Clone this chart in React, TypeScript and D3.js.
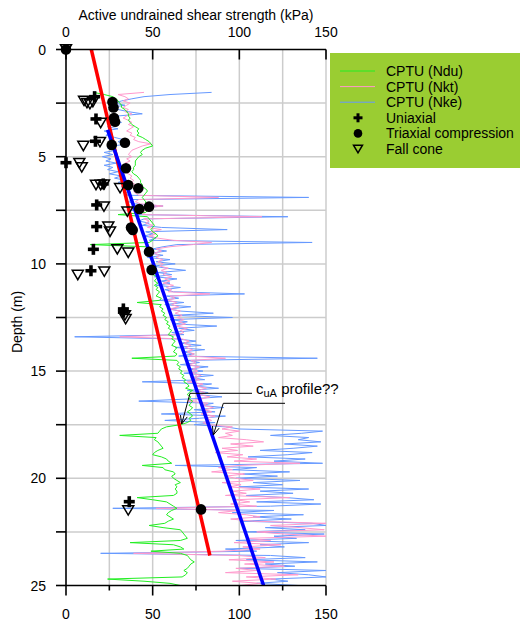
import React from "react";
import * as d3 from "d3";

// ---- Data ----
const DEPTH_START = 2.0; // m, first CPTU reading
const DEPTH_STEP = 0.1; // m

// CPTU (Ndu) — kPa, from 2.0 m to 25.0 m every 0.1 m
const NDU = [
  16, 22, 27, 29, 30, 31, 32, 32, 34, 35,
  36, 36, 37, 36, 37, 38, 40, 42, 41, 42,
  41, 44, 46, 48, 49, 50, 46, 44, 43, 44,
  42, 41, 40, 40, 40, 39, 39, 38, 39, 41,
  42, 43, 43, 44, 44, 46, 47, 46, 45, 44,
  45, 46, 46, 47, 46, 47, 46, 30, 47, 48,
  49, 50, 51, 50, 49, 50, 52, 53, 51, 50,
  48, 14, 46, 47, 48, 47, 48, 50, 49, 51,
  50, 52, 51, 50, 52, 50, 53, 52, 51, 53,
  51, 53, 52, 54, 53, 52, 55, 54, 41, 55,
  54, 56, 55, 57, 56, 58, 57, 59, 58, 60,
  59, 61, 60, 59, 62, 61, 63, 62, 61, 64,
  63, 62, 64, 63, 38, 64, 65, 64, 66, 65,
  67, 66, 68, 67, 69, 68, 70, 71, 69, 73,
  71, 70, 72, 71, 73, 72, 71, 73, 72, 70,
  72, 73, 71, 72, 70, 66, 58, 55, 54, 53,
  31, 52, 51, 53, 54, 55, 56, 53, 51, 50,
  55, 58, 59, 61, 44, 56, 57, 62, 63, 61,
  62, 64, 66, 63, 64, 63, 64, 64, 62, 41,
  50, 58, 60, 62, 64, 61, 59, 58, 60, 62,
  59, 57, 48, 56, 66, 67, 68, 69, 70, 66,
  37, 62, 66, 68, 49, 66, 70, 71, 72, 74,
  72, 71, 70, 68, 70, 69, 67, 24, 45, 60,
  66,
];

// CPTU (Nkt)
const NKT = [
  45, 30, 34, 36, 33, 37, 35, 33, 36, 34,
  38, 35, 33, 36, 38, 36, 39, 37, 35, 38,
  37, 40, 39, 42, 49, 44, 41, 38, 37, 36,
  38, 35, 37, 34, 36, 35, 37, 34, 36, 38,
  37, 39, 38, 40, 38, 41, 39, 40, 42, 88,
  42, 40, 43, 56, 45, 43, 46, 44, 113, 45,
  48, 46, 50, 47, 55, 49, 52, 48, 53, 62,
  84, 73, 60, 52, 55, 51, 54, 52, 56, 53,
  56, 54, 59, 55, 58, 56, 61, 57, 60, 56,
  62, 58, 61, 59, 83, 60, 63, 59, 64, 61,
  65, 60, 66, 63, 67, 64, 68, 65, 69, 64,
  70, 66, 68, 65, 31, 67, 71, 68, 72, 69,
  73, 70, 74, 71, 92, 72, 75, 71, 77, 73,
  76, 72, 78, 74, 77, 70, 79, 75, 81, 76,
  80, 77, 83, 78, 70, 82, 79, 85, 80, 84,
  78, 86, 81, 84, 79, 82, 96, 90, 100, 92,
  96, 88, 104, 114, 95, 108, 90, 99, 86, 102,
  93, 110, 97, 135, 100, 88, 96, 84, 103, 92,
  98, 108, 90, 101, 94, 112, 96, 104, 92, 129,
  98, 106, 95, 110, 52, 100, 88, 104, 112, 95,
  108, 150, 118, 135, 149, 110, 126, 150, 104, 118,
  97, 124, 102, 112, 90, 39, 99, 115, 94, 120,
  103, 126, 98, 110, 92, 134, 104, 121, 96, 112,
  100,
];

// CPTU (Nke)
const NKE = [
  84, 60, 45, 38, 32, 28, 34, 26, 30, 36,
  44, 30, 25, 28, 32, 27, 24, 30, 22, 26,
  23, 28, 33, 30, 36, 27, 24, 29, 22, 27,
  21, 26, 23, 29, 22, 27, 24, 30, 25, 32,
  28, 34, 30, 36, 32, 38, 33, 36, 35, 140,
  38, 36, 40, 56, 42, 38, 44, 40, 128, 45,
  42, 48, 44, 55, 93, 46, 50, 45, 52, 48,
  142, 64, 56, 50, 58, 49, 56, 47, 60, 52,
  63, 50, 58, 69, 53, 61, 51, 64, 55, 60,
  52, 66, 57, 62, 103, 58, 65, 54, 68, 57,
  72, 59, 66, 85, 62, 96, 60, 70, 63, 87,
  65, 74, 61, 68, 5, 64, 75, 66, 78, 63,
  80, 67, 74, 65, 145, 70, 77, 66, 82, 71,
  79, 68, 85, 72, 80, 44, 84, 74, 88, 70,
  82, 76, 90, 71, 42, 85, 78, 91, 74, 86,
  55, 92, 77, 57, 86, 74, 92, 100, 148, 136,
  118, 140, 134, 147, 126, 145, 131, 112, 142, 128,
  105, 138, 120, 148, 63, 110, 96, 129, 102, 122,
  98, 135, 108, 125, 100, 140, 112, 131, 104, 127,
  143, 110, 147, 118, 27, 120, 96, 137, 108, 130,
  102, 142, 150, 115, 138, 104, 149, 120, 133, 98,
  140, 112, 126, 92, 110, 20, 118, 138, 104, 145,
  115, 132, 100, 150, 122, 140, 150, 118, 128, 110,
  134,
];

// Laboratory tests: [strength kPa, depth m]
const UNIAXIAL: [number, number][] = [
  [16.5, 2.2], [17.3, 3.24], [17.0, 4.28], [0, 5.28], [21.5, 6.27],
  [17.7, 7.25], [17.7, 8.26], [15.8, 9.32], [14.4, 10.32],
  [33.1, 12.1], [33.1, 12.25], [36.5, 21.09],
];
const TRIAXIAL: [number, number][] = [
  [0, 0], [26.8, 2.45], [27.4, 2.7], [27.7, 3.2], [28.3, 3.37],
  [26.4, 4.45], [34.0, 4.35], [34.6, 5.54], [35.9, 6.32], [41.7, 6.47],
  [42.3, 7.44], [47.9, 7.33], [38.5, 8.42], [37.5, 8.3], [47.9, 9.43],
  [49.4, 10.28], [77.9, 21.45],
];
const FALL_CONE: [number, number][] = [
  [0, 0], [10.4, 2.4], [12.1, 2.5], [13.8, 2.55], [15.5, 2.45],
  [20.0, 3.43], [10.0, 4.5], [19.6, 4.32], [7.7, 5.3], [9.1, 5.5],
  [17.3, 6.32], [20.0, 6.32], [21.9, 6.3], [31.2, 6.47], [21.9, 7.33],
  [35.4, 7.56], [24.4, 8.26], [25.4, 8.5], [29.6, 9.32], [35.9, 9.48],
  [6.8, 10.52], [22.1, 10.36], [34.0, 12.4], [34.4, 12.58], [35.9, 21.5],
];

// c_uA profiles: [strength kPa, depth m] end points
const PROFILE_RED: [number, number][] = [[14.6, 0], [83, 23.6]];
const PROFILE_BLUE: [number, number][] = [[24, 3.75], [114, 25]];

const X_MAJOR = [0, 50, 100, 150];
const X_MINOR = [25, 75, 125];
const X_GRID = [25, 50, 75, 100, 125, 150];
const Y_LABELS = [0, 5, 10, 15, 20, 25];
const Y_TICKS = [0, 2.5, 5, 7.5, 10, 12.5, 15, 17.5, 20, 22.5, 25];
const Y_GRID = [2.5, 5, 7.5, 10, 12.5, 15, 17.5, 20, 22.5];

const LEGEND = [
  { label: "CPTU (Ndu)", kind: "line", color: "#22ee22" },
  { label: "CPTU (Nkt)", kind: "line", color: "#ff99cc" },
  { label: "CPTU (Nke)", kind: "line", color: "#6699ff" },
  { label: "Uniaxial", kind: "cross", color: "#000" },
  { label: "Triaxial compression", kind: "circle", color: "#000" },
  { label: "Fall cone", kind: "triangle", color: "#000" },
];

const FONT = "'Liberation Sans', Arial, sans-serif";

function Cross({ cx, cy, s = 11, t = 3.6 }: { cx: number; cy: number; s?: number; t?: number }) {
  return (
    <g>
      <rect x={cx - s / 2} y={cy - t / 2} width={s} height={t} fill="#000" />
      <rect x={cx - t / 2} y={cy - s / 2} width={t} height={s} fill="#000" />
    </g>
  );
}
function Tri({ cx, cy, w = 11 }: { cx: number; cy: number; w?: number }) {
  const h = w * 0.85;
  return (
    <polygon
      points={`${cx - w / 2},${cy - h / 2} ${cx + w / 2},${cy - h / 2} ${cx},${cy + h / 2}`}
      fill="none"
      stroke="#000"
      strokeWidth={1.5}
    />
  );
}

function Arrow({ x1, y1, x2, y2 }: { x1: number; y1: number; x2: number; y2: number }) {
  const ang = Math.atan2(y2 - y1, x2 - x1);
  const L = 9;
  const a1 = ang + Math.PI - 0.4;
  const a2 = ang + Math.PI + 0.4;
  return (
    <g stroke="#000" strokeWidth={1} fill="none">
      <line x1={x1} y1={y1} x2={x2} y2={y2} />
      <polyline
        points={`${x2 + L * Math.cos(a1)},${y2 + L * Math.sin(a1)} ${x2},${y2} ${x2 + L * Math.cos(a2)},${y2 + L * Math.sin(a2)}`}
      />
    </g>
  );
}

export default function App() {
  const x = d3.scaleLinear().domain([0, 150]).range([66, 326]);
  const y = d3.scaleLinear().domain([0, 25]).range([49.5, 585.5]);

  const depthAt = (i: number) => DEPTH_START + i * DEPTH_STEP;
  const trace = d3
    .line<number>()
    .x((v) => x(v))
    .y((_, i) => y(depthAt(i)));
  const seg = d3
    .line<[number, number]>()
    .x((p) => x(p[0]))
    .y((p) => y(p[1]));

  const [x0, x1] = x.range();
  const [y0, y1] = y.range();

  return (
    <div>
      <style>{`body{margin:0}`}</style>
      <svg width={520} height={623} style={{ display: "block", fontFamily: FONT }}>
        <rect width={520} height={623} fill="#fff" />
        {/* grid */}
        <g stroke="#cccccc" strokeWidth={1.5}>
          {X_GRID.map((v) => (
            <line key={"gx" + v} x1={x(v)} x2={x(v)} y1={y0} y2={y1} />
          ))}
          {Y_GRID.map((d) => (
            <line key={"gy" + d} x1={x0} x2={x1} y1={y(d)} y2={y(d)} />
          ))}
        </g>

        {/* CPTU traces */}
        <path d={trace(NKE) || ""} fill="none" stroke="#6699ff" strokeWidth={1} />
        <path d={trace(NKT) || ""} fill="none" stroke="#ff99cc" strokeWidth={1} />
        <path d={trace(NDU) || ""} fill="none" stroke="#22ee22" strokeWidth={1} />

        {/* profiles */}
        <path d={seg(PROFILE_RED) || ""} stroke="#ff0000" strokeWidth={3.5} fill="none" />
        <path d={seg(PROFILE_BLUE) || ""} stroke="#0000ff" strokeWidth={3.5} fill="none" />

        {/* axes */}
        <g stroke="#000" strokeWidth={1.6}>
          <line x1={x0} x2={x1} y1={y0} y2={y0} />
          <line x1={x0} x2={x1} y1={y1} y2={y1} />
          <line x1={x0} x2={x0} y1={y0} y2={y1} />
          {X_MAJOR.map((v) => (
            <line key={"tt" + v} x1={x(v)} x2={x(v)} y1={y0} y2={y0 + 10} />
          ))}
          {X_MAJOR.map((v) => (
            <line key={"bt" + v} x1={x(v)} x2={x(v)} y1={y1} y2={y1 + 10} />
          ))}
          {X_MINOR.map((v) => (
            <line key={"bm" + v} x1={x(v)} x2={x(v)} y1={y1} y2={y1 + 5} />
          ))}
          {Y_TICKS.map((d) => (
            <line key={"lt" + d} x1={x0 - 10} x2={x0} y1={y(d)} y2={y(d)} />
          ))}
        </g>

        {/* tick labels */}
        <g fontSize={14} fill="#000">
          {X_MAJOR.map((v) => (
            <text key={"tl" + v} x={x(v)} y={37} textAnchor="middle">
              {v}
            </text>
          ))}
          {X_MAJOR.map((v) => (
            <text key={"bl" + v} x={x(v)} y={619} textAnchor="middle">
              {v}
            </text>
          ))}
          {Y_LABELS.map((d) => (
            <text key={"yl" + d} x={46} y={y(d) + 5} textAnchor="end">
              {d}
            </text>
          ))}
          <text x={(x0 + x1) / 2} y={20} textAnchor="middle">
            Active undrained shear strength (kPa)
          </text>
          <text transform={`translate(22,322) rotate(-90)`} textAnchor="middle">
            Depth (m)
          </text>
        </g>

        {/* lab tests */}
        {FALL_CONE.map(([v, d], i) => (
          <Tri key={"f" + i} cx={x(v)} cy={y(d)} />
        ))}
        {UNIAXIAL.map(([v, d], i) => (
          <Cross key={"u" + i} cx={x(v)} cy={y(d)} />
        ))}
        {TRIAXIAL.map(([v, d], i) => (
          <circle key={"t" + i} cx={x(v)} cy={y(d)} r={5.3} fill="#000" />
        ))}

        {/* annotation */}
        <line x1={190} y1={393.3} x2={252} y2={393.3} stroke="#000" strokeWidth={1} />
        <Arrow x1={190} y1={393.3} x2={181.7} y2={424} />
        <line x1={223.3} y1={403.3} x2={285} y2={403.3} stroke="#000" strokeWidth={1} />
        <Arrow x1={223.3} y1={403.3} x2={213.3} y2={435} />
        <text x={256} y={394} fontSize={15} fill="#000">
          <tspan>c</tspan>
          <tspan dy={3} fontSize={11}>uA</tspan>
          <tspan dy={-3}> profile??</tspan>
        </text>

        {/* legend */}
        <rect x={330} y={53} width={200} height={115} fill="#9acd32" />
        {LEGEND.map((e, i) => {
          const ly = 71 + i * 15.6;
          return (
            <g key={e.label}>
              {e.kind === "line" && (
                <line x1={340} x2={375} y1={ly} y2={ly} stroke={e.color} strokeWidth={1} />
              )}
              {e.kind === "cross" && <Cross cx={358} cy={ly} s={9} t={3} />}
              {e.kind === "circle" && <circle cx={358} cy={ly} r={4.3} fill="#000" />}
              {e.kind === "triangle" && <Tri cx={358} cy={ly} w={9} />}
              <text x={386} y={ly + 5} fontSize={14} fill="#000">
                {e.label}
              </text>
            </g>
          );
        })}
      </svg>
    </div>
  );
}
